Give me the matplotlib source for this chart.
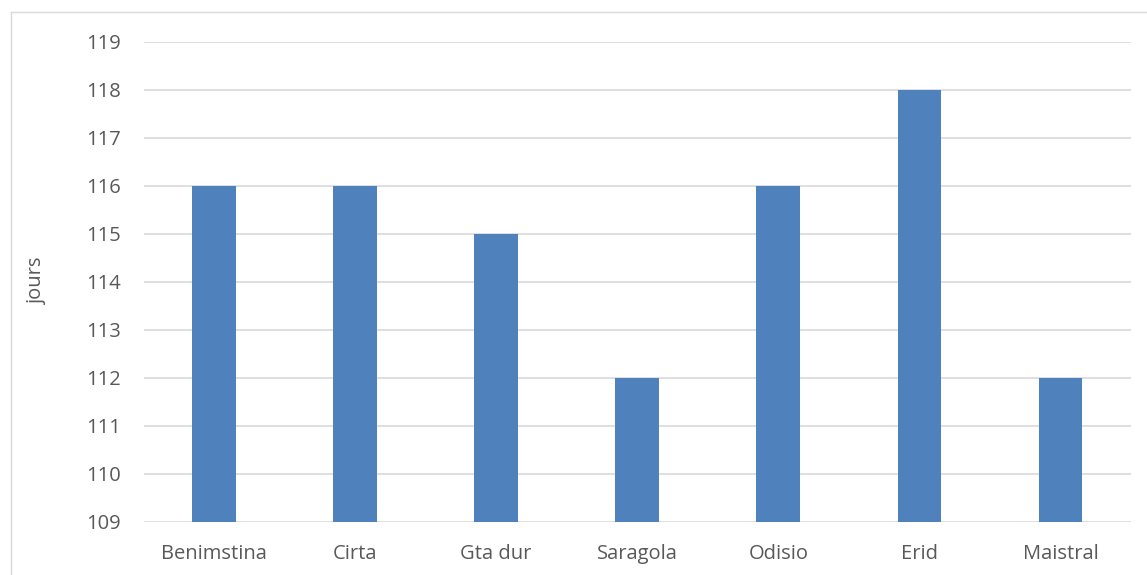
import matplotlib
matplotlib.use("Agg")
import matplotlib.pyplot as plt
from matplotlib.lines import Line2D

categories = ["Benimstina", "Cirta", "Gta dur", "Saragola", "Odisio", "Erid", "Maistral"]
jours = [116, 116, 115, 112, 116, 118, 112]
yticks = list(range(109, 120))

plt.rcParams["font.family"] = ["Open Sans", "DejaVu Sans"]
text_color = "#595959"
grid_color = "#d9d9d9"
bar_color = "#4f81bd"

W, H = 1147, 575
fig = plt.figure(figsize=(W / 100, H / 100), dpi=100)
fig.patch.set_facecolor("white")

ax = fig.add_axes([143.5 / W, 1 - 521.7 / H, (1131 - 143.5) / W, (521.7 - 41.7) / H])

x = list(range(len(categories)))
ax.bar(x, [v - 109 for v in jours], bottom=109, width=0.31, color=bar_color, zorder=3)

ax.set_xlim(-0.5, len(categories) - 0.5)
ax.set_ylim(109, 119)
ax.set_yticks(yticks)
ax.set_xticks(x)
ax.set_xticklabels(categories)

for y in yticks:
    ax.axhline(y, color=grid_color, lw=1.2, zorder=1)

for s in ax.spines.values():
    s.set_visible(False)

ax.tick_params(axis="both", length=0, labelsize=14.5, colors=text_color)
ax.tick_params(axis="y", pad=16)
ax.tick_params(axis="x", pad=16)
ax.set_ylabel("jours", fontsize=14.5, color=text_color, labelpad=28)

# chart frame
top = 1 - 12.3 / H
left = 10.7 / W
fig.add_artist(Line2D([left, 1], [top, top], transform=fig.transFigure, color=grid_color, lw=1.0))
fig.add_artist(Line2D([left, left], [0, top], transform=fig.transFigure, color=grid_color, lw=1.0))

fig.savefig("out.png", dpi=100, facecolor="white")
